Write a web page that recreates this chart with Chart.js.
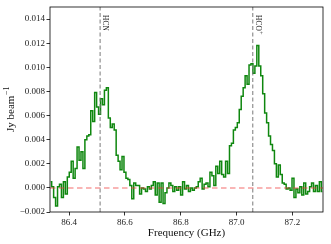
<!DOCTYPE html>
<html>
<head>
<meta charset="utf-8">
<script src="https://cdn.jsdelivr.net/npm/chart.js@4.4.0/dist/chart.umd.min.js"></script>
<style>
  html, body { margin: 0; padding: 0; background: #fff; }
  #wrap { width: 331px; height: 244px; }
</style>
</head>
<body>
<div id="wrap"><canvas id="spectrum" width="331" height="244"></canvas></div>
<script>
// channel centres (GHz) and flux density (Jy/beam)
var freqGHz = [
  86.334, 86.341, 86.348, 86.355, 86.362, 86.369, 86.376, 86.383, 86.390, 86.397,
  86.404, 86.411, 86.418, 86.425, 86.432, 86.439, 86.446, 86.453, 86.460, 86.467,
  86.474, 86.481, 86.488, 86.495, 86.502, 86.509, 86.516, 86.523, 86.530, 86.537,
  86.544, 86.551, 86.558, 86.565, 86.572, 86.579, 86.586, 86.593, 86.600, 86.607,
  86.614, 86.621, 86.628, 86.635, 86.642, 86.649, 86.656, 86.663, 86.670, 86.677,
  86.684, 86.691, 86.698, 86.705, 86.712, 86.719, 86.726, 86.733, 86.740, 86.747,
  86.754, 86.761, 86.768, 86.775, 86.782, 86.789, 86.796, 86.803, 86.810, 86.817,
  86.824, 86.831, 86.838, 86.845, 86.852, 86.859, 86.866, 86.873, 86.880, 86.887,
  86.894, 86.901, 86.908, 86.915, 86.922, 86.929, 86.936, 86.943, 86.950, 86.957,
  86.964, 86.971, 86.978, 86.985, 86.992, 86.999, 87.006, 87.013, 87.020, 87.027,
  87.034, 87.041, 87.048, 87.055, 87.062, 87.069, 87.076, 87.083, 87.090, 87.097,
  87.104, 87.111, 87.118, 87.125, 87.132, 87.139, 87.146, 87.153, 87.160, 87.167,
  87.174, 87.181, 87.188, 87.195, 87.202, 87.209, 87.216, 87.223, 87.230, 87.237,
  87.244, 87.251, 87.258, 87.265, 87.272, 87.279, 87.286, 87.293, 87.300, 87.307
];
var fluxJy = [
  0.0005, 0.0001, -0.0008, -0.0015, 0.0001, 0.0003, -0.0008, 0.0005, -0.0005, 0.0009,
  0.0013, 0.0022, 0.0008, 0.0016, 0.0034, 0.0023, 0.0030, 0.0016, 0.0040, 0.0043,
  0.0044, 0.0064, 0.0055, 0.0079, 0.0067, 0.0061, 0.0074, 0.0069, 0.0081, 0.0083,
  0.0058, 0.0050, 0.0053, 0.0048, 0.0027, 0.0022, 0.0015, 0.0026, 0.0013, 0.0008,
  0.0007, 0.0002, -0.0009, 0.0004, 0.0002, 0.0002, -0.0005, 0.0000, -0.0001, -0.0003,
  0.0001, -0.0001, 0.0002, 0.0005, -0.0006, 0.0004, -0.0012, 0.0004, -0.0013, -0.0004,
  0.0000, 0.0004, 0.0002, -0.0003, 0.0001, -0.0002, 0.0001, -0.0006, 0.0005, -0.0001,
  0.0002, -0.0003, 0.0000, -0.0002, 0.0000, 0.0001, 0.0005, 0.0008, -0.0001, 0.0003,
  0.0004, 0.0001, 0.0013, 0.0010, 0.0002, 0.0018, 0.0012, 0.0022, 0.0011, 0.0009,
  0.0022, 0.0012, 0.0035, 0.0037, 0.0048, 0.0050, 0.0054, 0.0065, 0.0076, 0.0083,
  0.0093, 0.0086, 0.0102, 0.0103, 0.0095, 0.0101, 0.0118, 0.0101, 0.0093, 0.0078,
  0.0062, 0.0054, 0.0043, 0.0036, 0.0031, 0.0020, 0.0009, 0.0019, 0.0011, 0.0004,
  0.0003, -0.0001, 0.0000, -0.0002, 0.0008, -0.0008, -0.0001, -0.0004, 0.0001, -0.0006,
  0.0004, -0.0005, -0.0003, 0.0001, 0.0004, -0.0003, 0.0002, -0.0003, 0.0005, -0.0003
];

// marked transitions
var lineNames = ['HCN', 'HCO'];
var lineSup = ['', '+'];
var lineFreqs = [86.511, 87.058];

// axes
var xRange = [86.3315, 87.3095];
var yRange = [-0.002, 0.015];
var xTickValues = [86.4, 86.6, 86.8, 87.0, 87.2];
var yTickValues = [-0.002, 0.000, 0.002, 0.004, 0.006, 0.008, 0.010, 0.012, 0.014];

var SERIF = "'Liberation Serif', 'DejaVu Serif', serif";

var spectrumPoints = [];
for (var i = 0; i < freqGHz.length; i++) {
    spectrumPoints.push({ x: freqGHz[i], y: fluxJy[i] });
}

function verticalLine(f) {
    return [{ x: f, y: yRange[0] }, { x: f, y: yRange[1] }];
}

// frame, axis titles and line labels
var extras = {
    id: 'extras',
    afterDraw: function (chart) {
        var ctx = chart.ctx;
        var a = chart.chartArea;
        var xs = chart.scales.x;
        ctx.save();

        ctx.strokeStyle = '#000';
        ctx.lineWidth = 0.8;
        ctx.strokeRect(a.left, a.top, a.right - a.left, a.bottom - a.top);

        ctx.fillStyle = '#111';
        ctx.font = '11px ' + SERIF;
        ctx.textAlign = 'center';
        ctx.textBaseline = 'alphabetic';
        ctx.fillText('Frequency (GHz)', (a.left + a.right) / 2, 236);

        // y title: Jy beam^-1
        ctx.save();
        ctx.translate(13.5, (a.top + a.bottom) / 2);
        ctx.rotate(-Math.PI / 2);
        ctx.textAlign = 'left';
        ctx.font = '11px ' + SERIF;
        var main = 'Jy beam';
        var wMain = ctx.measureText(main).width;
        ctx.font = '8px ' + SERIF;
        var sup = '\u22121';
        var wSup = ctx.measureText(sup).width;
        var x0 = -(wMain + wSup) / 2;
        ctx.font = '11px ' + SERIF;
        ctx.fillText(main, x0, 0);
        ctx.font = '8px ' + SERIF;
        ctx.fillText(sup, x0 + wMain + 0.5, -4.5);
        ctx.restore();

        // rotated transition names next to the dashed lines
        for (var k = 0; k < lineNames.length; k++) {
            var px = xs.getPixelForValue(lineFreqs[k]);
            ctx.save();
            ctx.translate(px + 3, 15);
            ctx.rotate(Math.PI / 2);
            ctx.textAlign = 'left';
            ctx.fillStyle = '#222';
            ctx.font = '7.5px ' + SERIF;
            ctx.fillText(lineNames[k], 0, 0);
            if (lineSup[k]) {
                var w = ctx.measureText(lineNames[k]).width;
                ctx.font = '6px ' + SERIF;
                ctx.fillText(lineSup[k], w + 0.3, -3);
            }
            ctx.restore();
        }
        ctx.restore();
    }
};

var datasets = [
    {
        // zero level
        data: [{ x: xRange[0], y: 0 }, { x: xRange[1], y: 0 }],
        borderColor: 'rgba(240, 60, 60, 0.5)',
        borderWidth: 1.5,
        borderDash: [5.5, 3.5],
        pointRadius: 0,
        order: 1
    },
    {
        data: verticalLine(lineFreqs[0]),
        borderColor: '#7a7a7a',
        borderWidth: 1,
        borderDash: [4, 2.5],
        pointRadius: 0,
        order: 2
    },
    {
        data: verticalLine(lineFreqs[1]),
        borderColor: '#7a7a7a',
        borderWidth: 1,
        borderDash: [4, 2.5],
        pointRadius: 0,
        order: 2
    },
    {
        data: spectrumPoints,
        stepped: 'middle',
        borderColor: '#0f870f',
        borderWidth: 1.5,
        pointRadius: 0,
        order: 3
    }
];

var ctx = document.getElementById('spectrum').getContext('2d');
var spectrumChart = new Chart(ctx, {
    type: 'line',
    data: { datasets: datasets },
    plugins: [extras],
    options: {
        responsive: false,
        animation: false,
        events: [],
        layout: { padding: { left: 0, top: 7, right: 8, bottom: 0 } },
        plugins: { legend: { display: false }, tooltip: { enabled: false } },
        scales: {
            x: {
                type: 'linear',
                min: xRange[0],
                max: xRange[1],
                afterBuildTicks: function (scale) {
                    scale.ticks = xTickValues.map(function (v) { return { value: v }; });
                },
                afterFit: function (scale) { scale.height = 32; },
                border: { display: false },
                grid: { drawOnChartArea: false, drawTicks: true, tickLength: 3.5, tickColor: '#000', lineWidth: 0.8 },
                ticks: {
                    padding: 1.5,
                    color: '#222',
                    maxRotation: 0,
                    font: { family: SERIF, size: 9 },
                    callback: function (v) { return v.toFixed(1); }
                }
            },
            y: {
                type: 'linear',
                min: yRange[0],
                max: yRange[1],
                afterBuildTicks: function (scale) {
                    scale.ticks = yTickValues.map(function (v) { return { value: v }; });
                },
                afterFit: function (scale) { scale.width = 50; },
                border: { display: false },
                grid: { drawOnChartArea: false, drawTicks: true, tickLength: 3.5, tickColor: '#000', lineWidth: 0.8 },
                ticks: {
                    padding: 1.5,
                    color: '#222',
                    font: { family: SERIF, size: 9 },
                    callback: function (v) {
                        var s = Math.abs(v).toFixed(3);
                        return v < -1e-9 ? '\u2212' + s : s;
                    }
                }
            }
        }
    }
});
</script>
</body>
</html>
